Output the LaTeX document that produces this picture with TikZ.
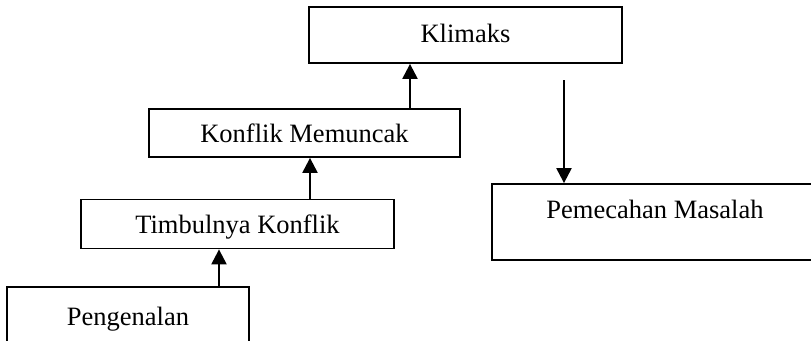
\documentclass[tikz,border=0pt]{standalone}
\usepackage{fontspec}
\setmainfont{Liberation Serif}
\usetikzlibrary{arrows.meta}

\begin{document}
\begin{tikzpicture}[x=1pt,y=-1pt]
\tikzstyle{kotak}=[rectangle,draw=black,line width=1.8pt,text height=18pt,text depth=0pt,font=\fontsize{26.5}{32}\selectfont]
\tikzstyle{panah}=[line width=2.2pt,>={Triangle[length=15pt,width=15pt]}]

\useasboundingbox (0,0) rectangle (811,340);
\clip (0,0) rectangle (811,340);

\begin{scope}
    % Tahapan alur
    \node [kotak,minimum width=313pt,minimum height=56pt,text depth=4pt] (alur_klimaks) at (465.5,35) {Klimaks};
    \node [kotak,minimum width=311pt,minimum height=48pt] (alur_konflik) at (304.5,133) {Konflik Memuncak};
    \node [kotak,minimum width=313pt,minimum height=49pt] (alur_timbul) at (237.5,224) {Timbulnya Konflik};
    \node [kotak,minimum width=242pt,minimum height=58pt] (alur_kenal) at (128,316) {Pengenalan};
    \node [kotak,minimum width=326pt,minimum height=76pt,text depth=25pt] (alur_pecah) at (655,222) {Pemecahan Masalah};

    % Posisi panah
    \coordinate (x_kenal) at (219,0);
    \coordinate (x_timbul) at (310,0);
    \coordinate (x_konflik) at (410,0);
    \coordinate (x_turun) at (564,80);

    % Naik
    \path[->,panah]   (x_kenal |- alur_kenal.north)   edge   (x_kenal |- alur_timbul.south);
    \path[->,panah]   (x_timbul |- alur_timbul.north)   edge   (x_timbul |- alur_konflik.south);
    \path[->,panah]   (x_konflik |- alur_konflik.north)   edge   (x_konflik |- alur_klimaks.south);

    % Turun
    \path[->,panah]   (x_turun)   edge   (x_turun |- alur_pecah.north);
\end{scope}

\end{tikzpicture}
\end{document}
